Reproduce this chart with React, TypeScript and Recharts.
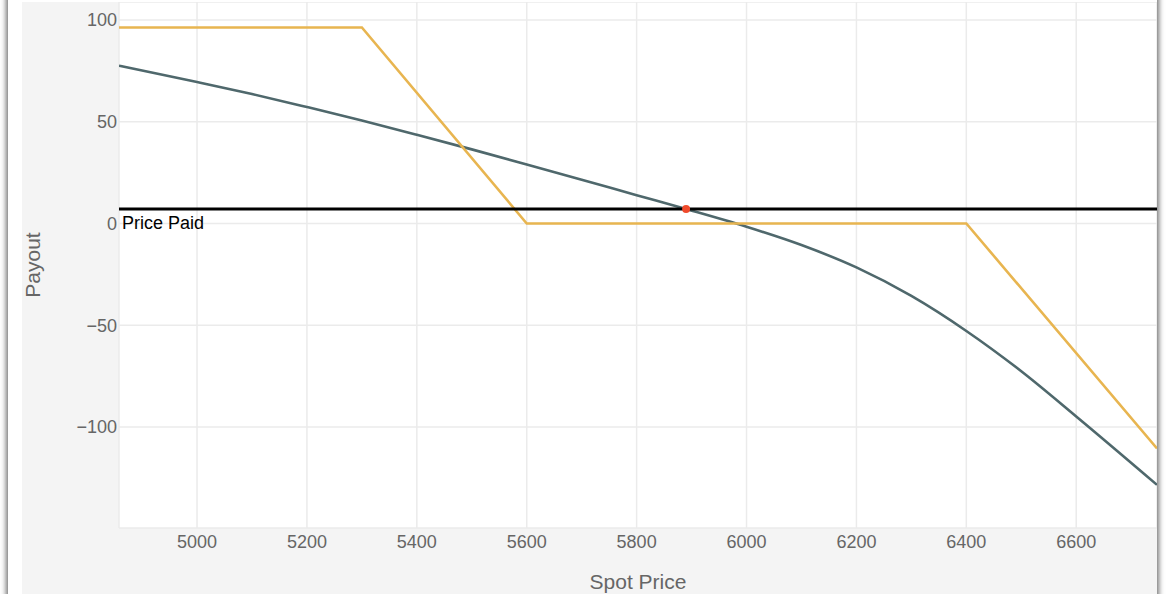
import {
  LineChart,
  Line,
  XAxis,
  YAxis,
  CartesianGrid,
  ReferenceLine,
  ReferenceDot,
} from 'recharts';

// option payout vs spot price
const spotPrices = [4858, 5000, 5100, 5200, 5300, 5400, 5500, 5600, 5700, 5800, 5890, 6000, 6100, 6200, 6300, 6400, 6500, 6600, 6747];
const modelPayout = [77.5, 69.5, 63.6, 57.2, 50.6, 43.6, 36.4, 29.0, 21.5, 13.9, 7.1, -1.6, -10.6, -21.6, -35.6, -52.8, -72.6, -94.8, -128.4];

const expirySpots = [4858, 5300, 5600, 6400, 6747];
const expiryPayout = [96.3, 96.3, 0, 0, -110.5];

const xTicks = [5000, 5200, 5400, 5600, 5800, 6000, 6200, 6400, 6600];
const yTicks = [-100, -50, 0, 50, 100];

const pricePaid = 7.1;
const breakEvenSpot = 5890;

const modelData = spotPrices.map((spot, i) => ({ spot, payout: modelPayout[i] }));
const expiryData = expirySpots.map((spot, i) => ({ spot, payout: expiryPayout[i] }));

const FONT = '"Liberation Sans", Arial, sans-serif';
const TEXT = '#666';

const fmt = (v: number) => (v < 0 ? `\u2212${-v}` : `${v}`);

const PayoutLabel = (props: any) => {
  const { viewBox } = props;
  const cx = viewBox.x + 18;
  const cy = viewBox.y + viewBox.height / 2;
  return (
    <text x={cx} y={cy} transform={`rotate(-90 ${cx} ${cy})`} textAnchor="middle" fill={TEXT} fontSize={21} fontFamily={FONT}>
      Payout
    </text>
  );
};

const PricePaidLabel = (props: any) => {
  const { viewBox } = props;
  return (
    <text x={viewBox.x + 3} y={viewBox.y + 20} fill="#000" fontSize={18} fontFamily={FONT}>
      Price Paid
    </text>
  );
};

export default function App() {
  return (
    <div style={{ position: 'fixed', left: 0, top: 0, width: 1172, height: 594, background: '#fff', overflow: 'hidden' }}>
      {/* card edges with shadow */}
      <div
        style={{
          position: 'absolute',
          left: 8,
          top: -30,
          width: 1149,
          height: 660,
          background: '#fff',
          boxShadow: '0 0 5px 2px rgba(0,0,0,0.55)',
        }}
      />
      <div style={{ position: 'absolute', left: 22, top: 2, width: 1135, height: 592, background: '#f4f4f4' }}>
        <LineChart width={1135} height={592} margin={{ top: 0, right: 0, bottom: 0, left: 0 }}>
          <CartesianGrid fill="#fff" stroke="#ebebeb" strokeWidth={1.5} />
          <XAxis
            type="number"
            dataKey="spot"
            domain={[4858, 6747]}
            ticks={xTicks}
            allowDataOverflow
            axisLine={false}
            tickLine={false}
            tickSize={0}
            tickMargin={7}
            height={66}
            tick={{ fill: TEXT, fontSize: 18, fontFamily: FONT }}
            label={{ value: 'Spot Price', position: 'insideBottom', offset: 5, fill: TEXT, fontSize: 21, fontFamily: FONT }}
          />
          <YAxis
            type="number"
            domain={[-149.6, 108.8]}
            ticks={yTicks}
            allowDataOverflow
            axisLine={false}
            tickLine={false}
            tickSize={0}
            tickMargin={2}
            width={97}
            tickFormatter={fmt}
            tick={{ fill: TEXT, fontSize: 18, fontFamily: FONT }}
            label={<PayoutLabel />}
          />
          <Line
            data={modelData}
            dataKey="payout"
            type="monotone"
            stroke="#4f686c"
            strokeWidth={2.6}
            dot={false}
            isAnimationActive={false}
          />
          <Line
            data={expiryData}
            dataKey="payout"
            type="linear"
            stroke="#e8b550"
            strokeWidth={2.6}
            dot={false}
            isAnimationActive={false}
          />
          <ReferenceLine y={pricePaid} stroke="#000" strokeWidth={3} label={<PricePaidLabel />} />
          <ReferenceDot x={breakEvenSpot} y={pricePaid} r={4} fill="#ef4a2b" stroke="none" />
        </LineChart>
      </div>
    </div>
  );
}
